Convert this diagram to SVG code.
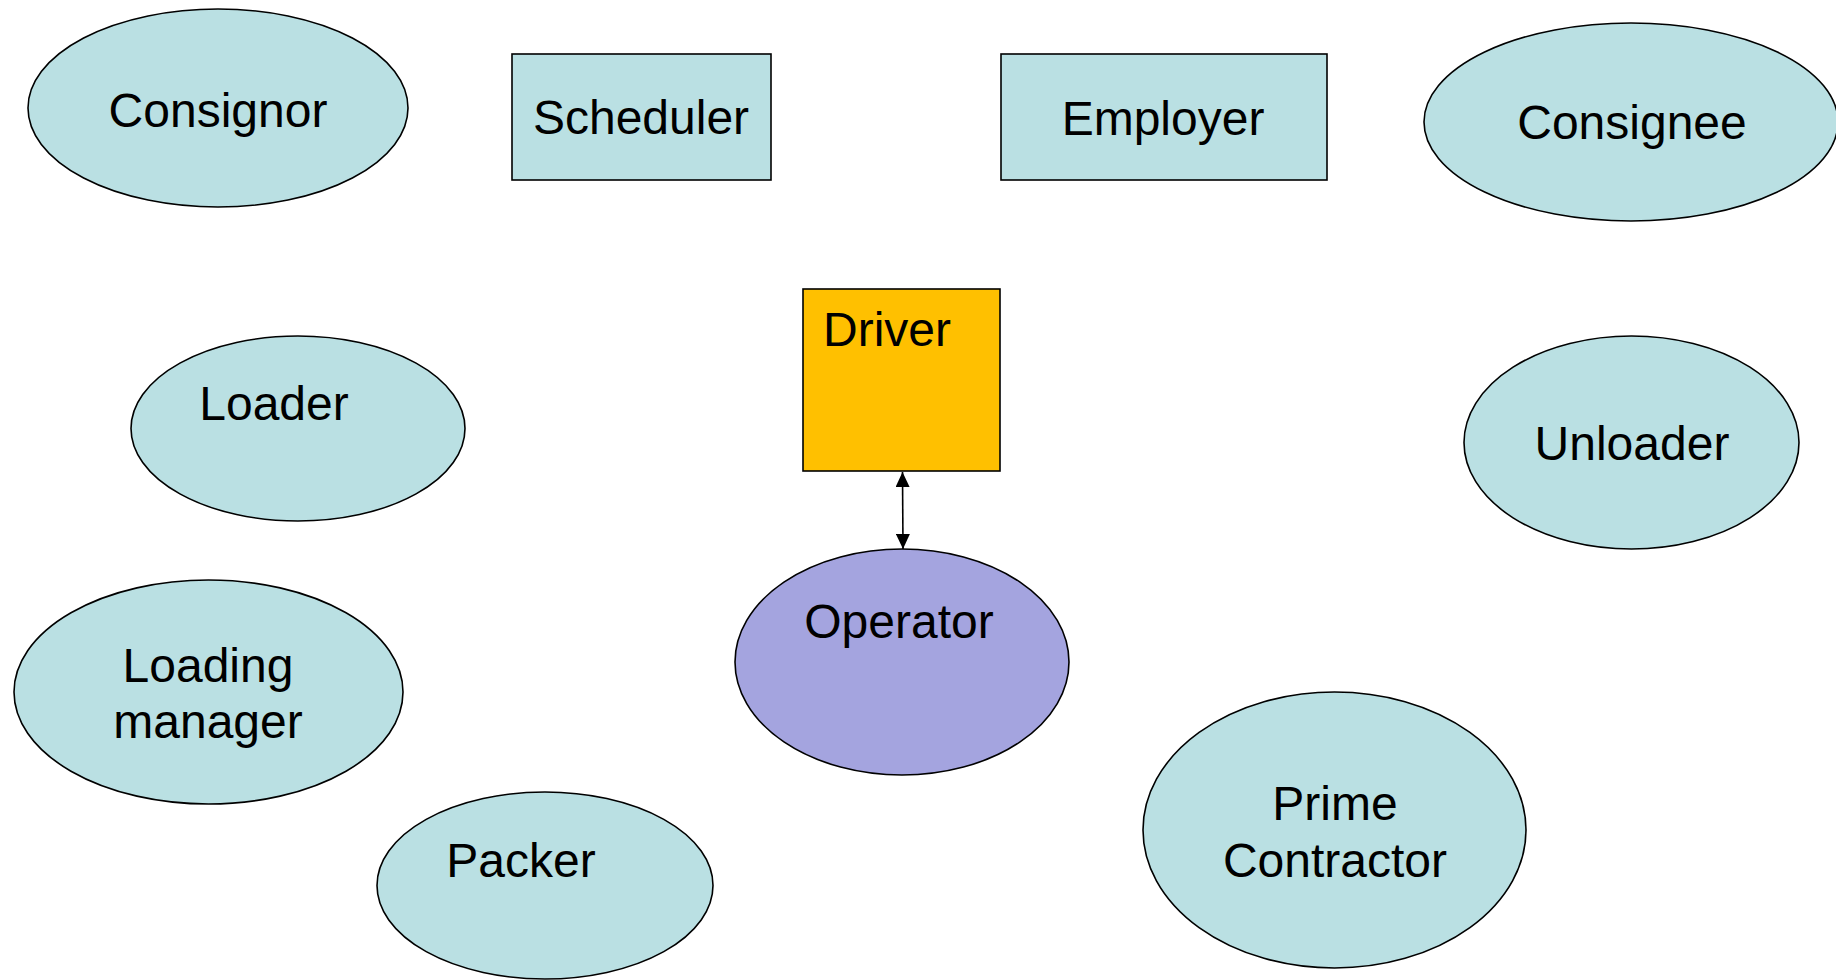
<svg xmlns="http://www.w3.org/2000/svg" width="1836" height="980" viewBox="0 0 1836 980">
<style>
.n{fill:#BAE0E3;stroke:#000;stroke-width:1.6}
.t{font-family:"Liberation Sans",Arial,sans-serif;font-size:48px;fill:#000;text-anchor:middle}
.c{stroke:#000;stroke-width:1.6;fill:none}
</style>
<defs>
<marker id="ah" markerUnits="userSpaceOnUse" markerWidth="16" markerHeight="14" refX="15" refY="7" orient="auto-start-reverse" viewBox="0 0 16 14">
<path d="M0,0 L15,7 L0,14 Z" fill="#000"/>
</marker>
</defs>
<rect width="1836" height="980" fill="#fff"/>
<g id="consignor"><ellipse class="n" cx="218" cy="108" rx="190" ry="99"/><text class="t" x="218" y="127">Consignor</text></g>
<g id="scheduler"><rect class="n" x="512" y="54" width="259" height="126"/><text class="t" x="641" y="134">Scheduler</text></g>
<g id="employer"><rect class="n" x="1001" y="54" width="326" height="126"/><text class="t" x="1163" y="135">Employer</text></g>
<g id="consignee"><ellipse class="n" cx="1631" cy="122" rx="207" ry="99"/><text class="t" x="1632" y="139">Consignee</text></g>
<g id="driver"><rect x="803" y="289" width="197" height="182" fill="#FFC000" stroke="#000" stroke-width="1.6"/><text class="t" x="823" y="346" style="text-anchor:start">Driver</text></g>
<g id="loader"><ellipse class="n" cx="298" cy="428.5" rx="167" ry="92.5"/><text class="t" x="274" y="420">Loader</text></g>
<g id="unloader"><ellipse class="n" cx="1631.5" cy="442.5" rx="167.5" ry="106.5"/><text class="t" x="1632" y="460">Unloader</text></g>
<g id="operator"><ellipse cx="902" cy="662" rx="167" ry="113" fill="#A4A4DF" stroke="#000" stroke-width="1.6"/><text class="t" x="899" y="638">Operator</text></g>
<g id="loading-manager"><ellipse class="n" cx="208.5" cy="692" rx="194.5" ry="112"/><text class="t" x="208" y="682">Loading</text><text class="t" x="208" y="738">manager</text></g>
<g id="packer"><ellipse class="n" cx="545" cy="885.5" rx="168" ry="93.5"/><text class="t" x="521" y="877">Packer</text></g>
<g id="prime-contractor"><ellipse class="n" cx="1334.5" cy="830" rx="191.5" ry="138"/><text class="t" x="1335" y="820">Prime</text><text class="t" x="1335" y="877">Contractor</text></g>
<g id="connectors"><path class="c" d="M902.5,472 L903,549" marker-start="url(#ah)" marker-end="url(#ah)"/></g>
</svg>
